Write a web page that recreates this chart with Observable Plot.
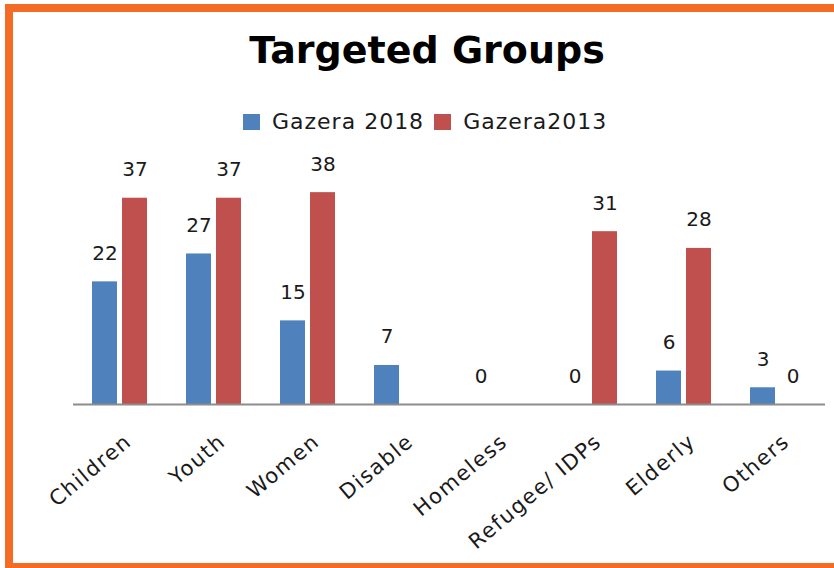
<!DOCTYPE html>
<html>
<head>
<meta charset="utf-8">
<script src="https://cdn.jsdelivr.net/npm/d3@7"></script>
<script src="https://cdn.jsdelivr.net/npm/@observablehq/plot@0.6"></script>
<style>
  html, body { margin: 0; padding: 0; background: #fff; }
  #wrap { position: relative; width: 834px; height: 568px; overflow: hidden; background: #fff; font-family: "DejaVu Sans", sans-serif; }
  #title { position: absolute; top: 28px; left: 0; width: 854px; text-align: center; font-size: 38px; line-height: 44px; font-weight: bold; color: #000; }
  #legend { position: absolute; left: 243px; top: 109px; display: flex; align-items: center; font-size: 22px; line-height: 26px; letter-spacing: 1px; color: #1a1a1a; white-space: nowrap; }
  #legend .sw { width: 17px; height: 16px; display: inline-block; }
  #chart { position: absolute; left: 0; top: 140px; }
  #frame { position: absolute; left: 5px; top: 4px; width: 900px; height: 567px; border: 8px solid #F36B24; box-sizing: border-box; pointer-events: none; z-index: 5; }
  .chart g[aria-label="fx-axis tick label"] text { letter-spacing: 1.5px; }
</style>
</head>
<body>
<div id="wrap">
  <div id="title">Targeted Groups</div>
  <div id="legend"></div>
  <div id="chart"></div>
  <div id="frame"></div>
</div>
<script>
const categories = ["Children", "Youth", "Women", "Disable", "Homeless", "Refugee/ IDPs", "Elderly", "Others"];
const seriesNames = ["Gazera 2018", "Gazera2013"];
const gazera2018 = [22, 27, 15, 7, 0, 0, 6, 3];
const gazera2013 = [37, 37, 38, null, null, 31, 28, 0];
const seriesColors = ["#4F81BD", "#C0504D"];

const seriesValues = [gazera2018, gazera2013];
const data = categories.flatMap((c, i) =>
  seriesNames.map((s, j) => ({ category: c, series: s, value: seriesValues[j][i] }))
).filter(d => d.value != null);

// Legend
const legend = document.getElementById("legend");
seriesNames.forEach((s, j) => {
  const sw = document.createElement("span");
  sw.className = "sw";
  sw.style.background = seriesColors[j];
  sw.style.marginRight = "12px";
  const t = document.createElement("span");
  t.textContent = s;
  t.style.marginRight = j === 0 ? "10px" : "0";
  legend.appendChild(sw);
  legend.appendChild(t);
});

const chart = Plot.plot({
  className: "chart",
  width: 834,
  height: 428,
  marginLeft: 73,
  marginRight: 9,
  marginTop: 41,
  marginBottom: 164,
  style: { background: "transparent", fontFamily: "DejaVu Sans", color: "#1a1a1a", overflow: "visible" },
  fx: { domain: categories, padding: 0, label: null },
  x: { domain: seriesNames, paddingInner: 0.16, paddingOuter: 0.6, axis: null },
  y: { domain: [0, 40], axis: null },
  color: { domain: seriesNames, range: seriesColors },
  marks: [
    Plot.barY(data, { fx: "category", x: "series", y: "value", fill: "series" }),
    Plot.ruleY([0], { stroke: "#8c8c8c", strokeWidth: 2 }),
    Plot.text(data, {
      fx: "category", x: "series", y: "value",
      text: d => String(d.value),
      lineAnchor: "bottom", dy: -22, fontSize: 20, fill: "#1a1a1a"
    }),
    Plot.axisFx({
      anchor: "bottom", tickRotate: -40, tickSize: 0, tickPadding: 34, dx: 8,
      fontSize: 21, label: null
    })
  ]
});
document.getElementById("chart").appendChild(chart);
</script>
</body>
</html>
